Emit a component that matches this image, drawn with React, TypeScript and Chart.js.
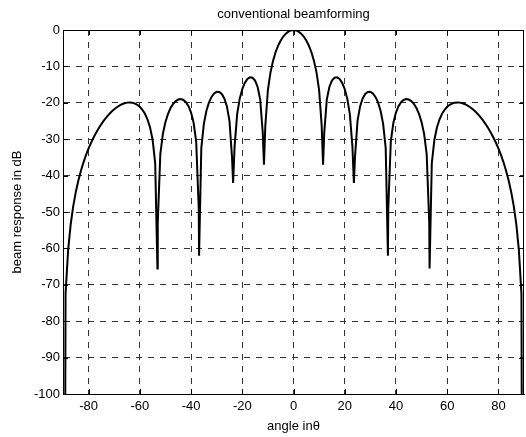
import React, { useEffect, useRef } from 'react';
import { Chart, registerables } from 'chart.js';

Chart.register(...registerables);

const chartTitle = 'conventional beamforming';
const xAxisLabel = 'angle in\u03b8';
const yAxisLabel = 'beam response in dB';

const xTicks = [-80, -60, -40, -20, 0, 20, 40, 60, 80];
const yTicks = [-100, -90, -80, -70, -60, -50, -40, -30, -20, -10, 0];

const angleDeg = [
  -90, -89, -88, -87, -86, -85, -84, -83, -82, -81, -80, -79, -78, -77, -76, -75, -74, -73, -72, -71,
  -70, -69, -68, -67, -66, -65, -64, -63, -62, -61, -60, -59, -58, -57, -56, -55, -54, -53.13, -53, -52,
  -51, -50, -49, -48, -47, -46, -45, -44, -43, -42, -41, -40, -39, -38, -37, -36.87, -36, -35, -34, -33,
  -32, -31, -30, -29, -28, -27, -26, -25, -24, -23.58, -23, -22, -21, -20, -19, -18, -17, -16, -15, -14,
  -13, -12, -11.54, -11, -10, -9, -8, -7, -6, -5, -4, -3, -2, -1, 0,
  1, 2, 3, 4, 5, 6, 7, 8, 9, 10, 11, 11.54, 12, 13, 14, 15, 16, 17, 18, 19,
  20, 21, 22, 23, 23.58, 24, 25, 26, 27, 28, 29, 30, 31, 32, 33, 34, 35, 36, 36.87, 37,
  38, 39, 40, 41, 42, 43, 44, 45, 46, 47, 48, 49, 50, 51, 52, 53, 53.13, 54, 55, 56,
  57, 58, 59, 60, 61, 62, 63, 64, 65, 66, 67, 68, 69, 70, 71, 72, 73, 74, 75, 76,
  77, 78, 79, 80, 81, 82, 83, 84, 85, 86, 87, 88, 89, 90,
];

const responseDb = [
  -320, -72.42, -60.48, -53.38, -48.37, -44.49, -41.33, -38.66, -36.35, -34.33, -32.53, -30.91, -29.46, -28.13, -26.93, -25.84, -24.84, -23.94, -23.13, -22.41,
  -21.77, -21.22, -20.76, -20.39, -20.12, -19.95, -19.89, -19.96, -20.17, -20.54, -21.1, -21.91, -23.03, -24.59, -26.8, -30.21, -36.61, -65.5, -52.96, -34.07,
  -28.54, -25.28, -23.04, -21.44, -20.3, -19.53, -19.1, -18.99, -19.21, -19.83, -20.92, -22.67, -25.48, -30.58, -49.07, -62, -32.43, -25.77, -22.19, -19.89,
  -18.38, -17.44, -16.99, -17.03, -17.59, -18.81, -20.99, -24.97, -35.03, -42, -31.98, -23.1, -18.86, -16.23, -14.51, -13.47, -13.0, -13.11, -13.9, -15.65,
  -19.14, -28.26, -37, -26.25, -16.52, -11.71, -8.49, -6.11, -4.29, -2.88, -1.8, -0.99, -0.44, -0.11, 0,
  -0.11, -0.44, -0.99, -1.8, -2.88, -4.29, -6.11, -8.49, -11.71, -16.52, -26.25, -37, -28.26, -19.14, -15.65, -13.9, -13.11, -13.0, -13.47, -14.51,
  -16.23, -18.86, -23.1, -31.98, -42, -35.03, -24.97, -20.99, -18.81, -17.59, -17.03, -16.99, -17.44, -18.38, -19.89, -22.19, -25.77, -32.43, -62, -49.07,
  -30.58, -25.48, -22.67, -20.92, -19.83, -19.21, -18.99, -19.1, -19.53, -20.3, -21.44, -23.04, -25.28, -28.54, -34.07, -52.96, -65.5, -36.61, -30.21, -26.8,
  -24.59, -23.03, -21.91, -21.1, -20.54, -20.17, -19.96, -19.89, -19.95, -20.12, -20.39, -20.76, -21.22, -21.77, -22.41, -23.13, -23.94, -24.84, -25.84, -26.93,
  -28.13, -29.46, -30.91, -32.53, -34.33, -36.35, -38.66, -41.33, -44.49, -48.37, -53.38, -60.48, -72.42, -320,
];

const FONT_FAMILY = "Arial, 'Liberation Sans', Helvetica, sans-serif";
const W = 526;
const H = 437;

const framePlugin = {
  id: 'matlabFrame',
  afterDraw(chart: any) {
    const { ctx, chartArea: a, scales } = chart;
    const xs = scales.x;
    const ys = scales.y;
    ctx.save();
    ctx.strokeStyle = '#000';
    ctx.lineWidth = 1;
    ctx.beginPath();
    ctx.rect(Math.round(a.left) + 0.5, Math.round(a.top) + 0.5, Math.round(a.right - a.left) - 1, Math.round(a.bottom - a.top));
    ctx.stroke();
    const tl = 5;
    ctx.beginPath();
    for (const v of xTicks) {
      const px = Math.round(xs.getPixelForValue(v)) + 0.5;
      ctx.moveTo(px, a.bottom);
      ctx.lineTo(px, a.bottom - tl);
      ctx.moveTo(px, a.top);
      ctx.lineTo(px, a.top + tl);
    }
    for (const v of yTicks) {
      const py = Math.round(ys.getPixelForValue(v)) + 0.5;
      ctx.moveTo(a.left, py);
      ctx.lineTo(a.left + tl, py);
      ctx.moveTo(a.right, py);
      ctx.lineTo(a.right - tl, py);
    }
    ctx.stroke();
    ctx.restore();
  },
};

export default function App() {
  const canvasRef = useRef<HTMLCanvasElement | null>(null);

  useEffect(() => {
    const canvas = canvasRef.current;
    if (!canvas) return;
    const points = angleDeg.map((a, i) => ({ x: a, y: responseDb[i] }));
    const font = { family: FONT_FAMILY, size: 13 };
    const chart = new Chart(canvas, {
      type: 'line',
      data: {
        datasets: [
          {
            data: points,
            borderColor: '#000',
            borderWidth: 2,
            pointRadius: 0,
            tension: 0,
            fill: false,
          },
        ],
      },
      plugins: [framePlugin],
      options: {
        animation: false,
        responsive: false,
        devicePixelRatio: 1,
        layout: { padding: { left: 0, right: 2, top: 0, bottom: 0 } },
        plugins: {
          legend: { display: false },
          tooltip: { enabled: false },
          title: {
            display: true,
            text: chartTitle,
            color: '#000',
            fullSize: false,
            font: { family: FONT_FAMILY, size: 13, weight: 'normal' },
            padding: { top: 7, bottom: 7.4 },
          },
        },
        scales: {
          x: {
            type: 'linear',
            min: -90,
            max: 90,
            afterBuildTicks: (s: any) => {
              s.ticks = xTicks.map((v) => ({ value: v }));
            },
            afterFit: (s: any) => {
              s.height = 43;
            },
            grid: { color: '#333', lineWidth: 1, drawTicks: false },
            border: { display: true, color: '#000', width: 1, dash: [6, 6] },
            ticks: { color: '#000', font, padding: 5, maxRotation: 0, autoSkip: false },
            title: { display: true, text: xAxisLabel, color: '#000', font, padding: { top: 3, bottom: 3 } },
          },
          y: {
            type: 'linear',
            min: -100,
            max: 0,
            afterBuildTicks: (s: any) => {
              s.ticks = yTicks.map((v) => ({ value: v }));
            },
            afterFit: (s: any) => {
              s.width = 63;
            },
            grid: { color: '#333', lineWidth: 1, drawTicks: false },
            border: { display: true, color: '#000', width: 1, dash: [6, 6] },
            ticks: { color: '#000', font, padding: 3 },
            title: { display: true, text: yAxisLabel, color: '#000', font, padding: { top: 10, bottom: 3 } },
          },
        },
      },
    } as any);
    return () => chart.destroy();
  }, []);

  return (
    <div style={{ position: 'absolute', left: 0, top: 0, width: W, height: H, background: '#fff' }}>
      <canvas ref={canvasRef} width={W} height={H} style={{ display: 'block', width: W, height: H }} />
    </div>
  );
}
